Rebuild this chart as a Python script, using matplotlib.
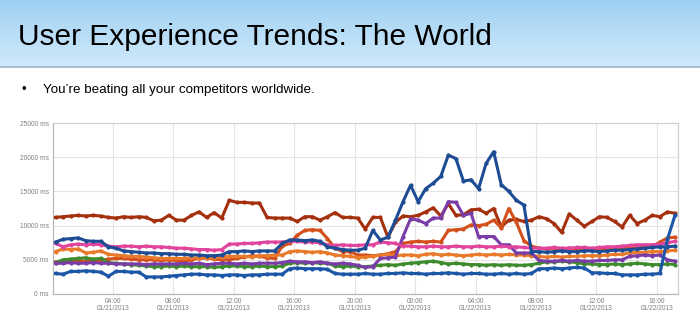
import numpy as np
import pandas as pd
import matplotlib
matplotlib.use("Agg")
import matplotlib.pyplot as plt
import matplotlib.dates as mdates
from matplotlib.colors import LinearSegmentedColormap

plt.rcParams["font.family"] = ["Liberation Sans", "DejaVu Sans"]

title = "User Experience Trends: The World"
bullet = "You\u2019re beating all your competitors worldwide."

# samples every 30 min, 01/21/2013 00:12 -> 01/22/2013 17:12
times = pd.date_range("2013-01-21 00:12", periods=83, freq="30min")
tick_times = pd.date_range("2013-01-21 04:00", periods=10, freq="4h")
y_ticks = [0, 5000, 10000, 15000, 20000, 25000]

dark_red = [11200, 11300, 11400, 11500, 11400, 11500, 11400, 11200, 11100, 11300,
            11200, 11300, 11200, 10700, 10800, 11500, 10800, 10800, 11500, 12000,
            11200, 11900, 11100, 13700, 13400, 13400, 13300, 13300, 11200, 11100,
            11100, 11100, 10600, 11300, 11300, 10800, 11300, 11900, 11200, 11200,
            11100, 9500, 11200, 11200, 8300, 10500, 11400, 11300, 11500, 12000,
            12600, 11400, 13200, 11500, 11600, 12300, 12400, 11800, 12500, 9800,
            10800, 10900, 10600, 10800, 11300, 11000, 10300, 9000, 11700, 10800,
            9900, 10600, 11300, 11200, 10600, 9800, 11500, 10300, 10800, 11500,
            11300, 12000, 11800]

orange_red = [4700, 4800, 4800, 4900, 4800, 4900, 4900, 5100, 5200, 5200,
              5100, 5000, 5000, 5000, 4900, 5000, 4900, 4800, 5000, 5200,
              5300, 5100, 5000, 5000, 5200, 5400, 5600, 5500, 5300, 5200,
              7000, 7400, 8600, 9300, 9400, 9300, 8100, 6700, 6200, 6200,
              5700, 5700, 5600, 5700, 5900, 6200, 7400, 7600, 7700, 7600,
              7700, 7600, 9300, 9400, 9500, 10100, 10000, 10200, 10800, 9700,
              12500, 10500, 7800, 7000, 6700, 6600, 6700, 6600, 6700, 6600,
              6600, 6500, 6600, 6600, 6700, 6600, 6700, 6800, 6800, 6900,
              7600, 8200, 8300]

purple = [4500, 4500, 4600, 4500, 4500, 4600, 4500, 4500, 4400, 4400,
          4400, 4400, 4300, 4400, 4400, 4400, 4400, 4500, 4400, 4500,
          4300, 4400, 4500, 4500, 4400, 4500, 4400, 4500, 4500, 4500,
          4600, 4800, 4700, 4700, 4600, 4700, 4500, 4400, 4500, 4400,
          4200, 3900, 4000, 5200, 5300, 5400, 8400, 11000, 10800, 10300,
          11100, 11100, 13500, 13400, 11500, 11800, 8400, 8400, 8400, 7200,
          7200, 6000, 6000, 6000, 4900, 4800, 4800, 4900, 4800, 4900,
          4800, 4800, 4900, 4900, 5000, 5000, 5500, 5600, 5700, 5600,
          5700, 5000, 4800]

orange = [6200, 6600, 6500, 6600, 6000, 6100, 6300, 5800, 5700, 5600,
          5500, 5500, 5400, 5300, 5200, 5200, 5200, 5200, 5300, 5200,
          5300, 5300, 5400, 5500, 5500, 5500, 5400, 5600, 5600, 5700,
          5700, 6200, 6300, 6200, 6100, 6200, 6000, 5700, 5600, 5500,
          5300, 5400, 5500, 5700, 5800, 5600, 5700, 5700, 5600, 5800,
          5900, 5700, 5800, 5700, 5600, 5700, 5800, 5700, 5800, 5700,
          5800, 5700, 5700, 5600, 5500, 5400, 5500, 5400, 5500, 5500,
          5600, 5600, 5600, 5700, 5800, 5800, 6000, 6100, 6100, 6200,
          6200, 6300, 6400]

green = [4600, 5000, 5100, 5200, 5300, 5100, 5200, 4600, 4500, 4400,
         4300, 4200, 4100, 4000, 4000, 4100, 4000, 4100, 4000, 4000,
         4000, 3900, 4000, 4100, 4100, 4000, 4000, 4100, 4000, 4000,
         4100, 4500, 4600, 4500, 4600, 4500, 4500, 4100, 4000, 4100,
         4000, 4000, 4100, 4200, 4300, 4200, 4400, 4500, 4600, 4700,
         4800, 4600, 4400, 4500, 4400, 4300, 4300, 4200, 4300, 4200,
         4300, 4200, 4200, 4300, 4500, 4700, 4700, 4800, 4700, 4600,
         4400, 4400, 4300, 4300, 4400, 4300, 4400, 4500, 4400, 4300,
         4300, 4400, 4300]

magenta = [7400, 6900, 7200, 7300, 7200, 7300, 7200, 7000, 6900, 7000,
           7000, 6900, 7000, 6900, 6900, 6800, 6700, 6700, 6600, 6500,
           6500, 6400, 6500, 7300, 7300, 7400, 7400, 7500, 7600, 7600,
           7600, 7700, 7700, 7600, 7600, 7500, 7200, 7100, 7200, 7100,
           7100, 7200, 7200, 7600, 7500, 7400, 7000, 7000, 6900, 6900,
           7000, 6900, 6900, 7000, 6900, 6900, 7000, 6900, 6900, 7000,
           6900, 6900, 6800, 6700, 6700, 6700, 6800, 6700, 6700, 6800,
           6800, 6700, 6800, 6900, 6900, 7000, 7100, 7200, 7200, 7200,
           7300, 7500, 7700]

navy_spike = [7600, 8000, 8100, 8200, 7800, 7700, 7700, 6900, 6700, 6300,
              6200, 6100, 6000, 6000, 5900, 5900, 5800, 5800, 5700, 5700,
              5600, 5600, 5700, 6200, 6200, 6300, 6200, 6300, 6300, 6300,
              7400, 7900, 7900, 7800, 7900, 7700, 6900, 6700, 6500, 6400,
              6400, 6700, 9300, 7900, 8300, 10800, 13500, 15900, 13500, 15400,
              16200, 17200, 20300, 19800, 16500, 16700, 15400, 19100, 20800, 16000,
              15000, 13700, 13000, 6200, 6200, 6100, 6200, 6300, 6200, 6200,
              6300, 6300, 6200, 6300, 6400, 6400, 6500, 6600, 6700, 6800,
              6900, 6900, 7000]

navy_low = [3000, 2900, 3300, 3300, 3400, 3300, 3200, 2600, 3300, 3300,
            3200, 3200, 2500, 2500, 2500, 2600, 2700, 2800, 2900, 2900,
            2800, 2800, 2700, 2800, 2800, 2700, 2800, 2800, 2900, 2900,
            2900, 3700, 3800, 3700, 3700, 3700, 3600, 3000, 2900, 2900,
            2900, 3000, 2900, 2900, 3000, 3000, 3100, 3000, 3000, 2900,
            3000, 3000, 3100, 3000, 2900, 3000, 3000, 2900, 2900, 3000,
            2900, 3000, 2900, 3000, 3700, 3700, 3800, 3700, 3800, 3900,
            3800, 3100, 3100, 3000, 3000, 2800, 2800, 2800, 2900, 2900,
            3000, 8000, 11500]

series = [
    (dark_red,   "#a5300e"),
    (orange_red, "#d4501a"),
    (orange,     "#e97a2c"),
    (green,      "#3d8b2c"),
    (purple,     "#7a3ca6"),
    (magenta,    "#e0449c"),
    (navy_spike, "#1d4c94"),
    (navy_low,   "#1c56a6"),
]

fig = plt.figure(figsize=(7.0, 3.27), dpi=100)
fig.patch.set_facecolor("white")

# --- blue title banner ---
bx = fig.add_axes([0, 1 - 68 / 327, 1, 68 / 327])
cmap = LinearSegmentedColormap.from_list("banner", ["#9fd0f2", "#b9def7", "#d0eafb"])
bx.imshow(np.linspace(0, 1, 100).reshape(-1, 1), aspect="auto", cmap=cmap,
          extent=[0, 1, 0, 1], origin="upper")
bx.axhline(0.01, color="#9fb8cc", lw=1.2)
bx.set_axis_off()

fig.text(18 / 700, 1 - 45 / 327, title, fontsize=21.5,
         color="black", ha="left", va="baseline")
fig.text(24 / 700, 1 - 93 / 327, "\u2022", fontsize=9.5,
         color="black", ha="center", va="baseline")
fig.text(43 / 700, 1 - 93 / 327, bullet, fontsize=9.6,
         color="black", ha="left", va="baseline")

# --- chart ---
ax = fig.add_axes([53 / 700, 1 - 294 / 327, 625 / 700, 171 / 327])
for vals, c in series:
    ax.plot(times, vals, color=c, lw=2.2, marker="o", ms=3.0, mew=0, zorder=3)

ax.set_xlim(pd.Timestamp("2013-01-21 00:02"), pd.Timestamp("2013-01-22 17:24"))
ax.set_ylim(0, 25000)
ax.set_xticks(tick_times)
ax.xaxis.set_major_formatter(mdates.DateFormatter("%H:%M\n%m/%d/%Y"))
ax.set_yticks(y_ticks)
ax.set_yticklabels([f"{v} ms" for v in y_ticks])
ax.tick_params(length=0, labelsize=4.8, labelcolor="#808080")
ax.tick_params(axis="x", pad=3)
ax.tick_params(axis="y", pad=3)
for lbl in ax.get_xticklabels():
    lbl.set_linespacing(0.95)
ax.grid(True, color="#e4e4e4", lw=0.8)
ax.set_axisbelow(True)
for s in ax.spines.values():
    s.set_color("#d0d0d0")
    s.set_linewidth(0.9)
ax.spines["left"].set_color("#b8b8b8")
ax.spines["bottom"].set_color("#b8b8b8")

fig.savefig("out.png", dpi=100, facecolor="white")
